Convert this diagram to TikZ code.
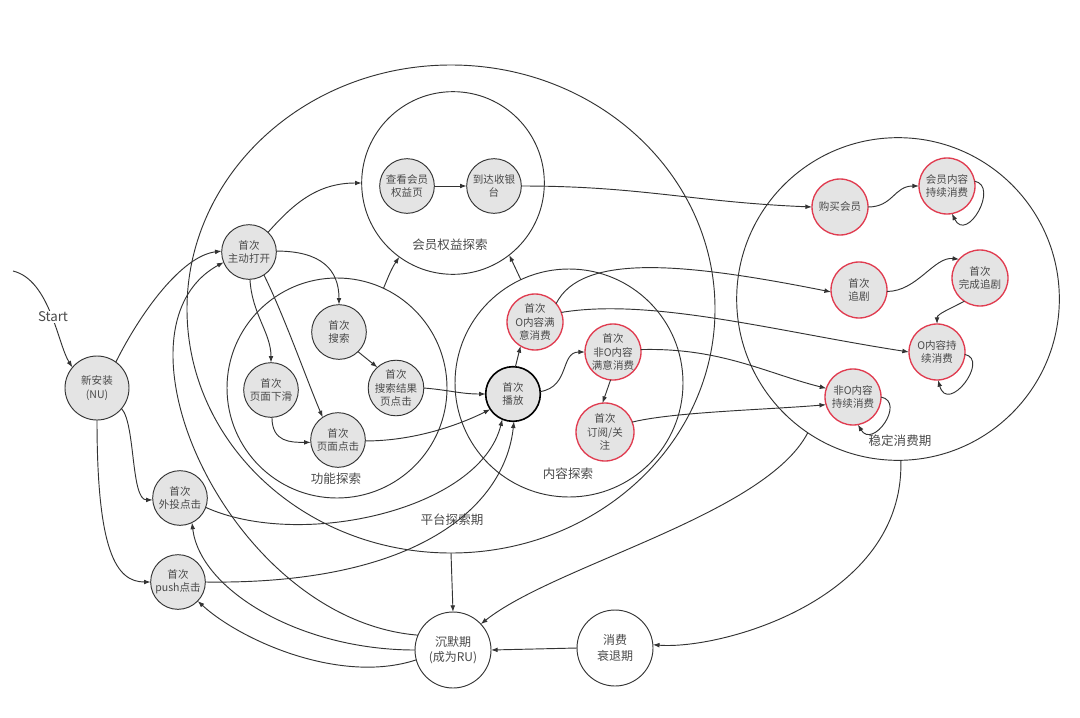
\documentclass[tikz,border=0pt]{standalone}
\usepackage{fontspec}
\setmainfont{Noto Sans CJK SC}
\usetikzlibrary{arrows.meta,shapes.geometric}
\definecolor{nfill}{HTML}{E4E4E4}
\definecolor{rborder}{HTML}{E03C50}
\definecolor{ink}{HTML}{333333}
\definecolor{txt}{HTML}{4A4A4A}
\begin{document}
\begin{tikzpicture}[x=0.75pt,y=-0.75pt,
  every node/.style={inner sep=0pt, outer sep=0pt},
  st/.style={circle, draw=ink, line width=0.7pt, fill=nfill, minimum size=41pt, align=center, text=txt, font=\fontsize{7.9pt}{10pt}\selectfont},
  rst/.style={st, draw=rborder, line width=1pt, minimum size=42pt},
  bigc/.style={circle, draw=ink, line width=0.7pt},
  lab/.style={text=txt, font=\fontsize{9.4pt}{11pt}\selectfont},
  conn/.style={draw=ink, line width=0.7pt, -{Latex[length=5pt,width=3.6pt]}},
]
\fill[white] (0,0) rectangle (1080,717);
\useasboundingbox (0,0) rectangle (1080,717);

% big regions
\node[bigc, ellipse, minimum width=396pt, minimum height=366pt] (plat) at (451,309) {};
\node[bigc, minimum size=137pt] (vip) at (453,183) {};
\node[bigc, minimum size=165pt] (func) at (337,388) {};
\node[bigc, minimum size=171pt] (cont) at (569,383) {};
\node[bigc, minimum size=242pt] (stable) at (898,299) {};

\node[lab] (lvip) at (450,245) {会员权益探索};
\node[lab] (lfunc) at (336,479) {功能探索};
\node[lab] (lcont) at (568,474) {内容探索};
\node[lab] (lplat) at (452,520) {平台探索期};
\node[lab] (lstable) at (900,441) {稳定消费期};

% states
\node[st, minimum size=48pt] (nu) at (97,388) {新安装\\(NU)};
\node[st] (open) at (249,252) {首次\\主动打开};
\node[st] (search) at (339,332) {首次\\搜索};
\node[st] (sres) at (396,388) {首次\\搜索结果\\页点击};
\node[st] (scroll) at (271,390) {首次\\页面下滑};
\node[st] (click) at (338,440) {首次\\页面点击};
\node[st] (vipv) at (407,186) {查看会员\\权益页};
\node[st] (cash) at (494,186) {到达收银\\台};
\node[st, draw=black, line width=1.2pt] (play) at (513,394) {首次\\播放};
\node[rst] (osat) at (535,322) {首次\\O内容满\\意消费};
\node[rst] (nosat) at (613,352) {首次\\非O内容\\满意消费};
\node[rst, minimum size=43.5pt] (sub) at (605,432) {首次\\订阅/关\\注};
\node[rst] (buy) at (840,207) {购买会员};
\node[rst] (vipc) at (947,186) {会员内容\\持续消费};
\node[rst] (chase) at (859,290) {首次\\追剧};
\node[rst] (fchase) at (980,278) {首次\\完成追剧};
\node[rst] (ocont) at (937,352) {O内容持\\续消费};
\node[rst] (nocont) at (853,397) {非O内容\\持续消费};
\node[st] (ext) at (180,498) {首次\\外投点击};
\node[st] (push) at (178,582) {首次\\push点击};
\node[st, fill=white, minimum size=57pt, font=\fontsize{9pt}{11.5pt}\selectfont] (silent) at (453,650) {沉默期\\(成为RU)};
\node[st, fill=white, minimum size=57pt, font=\fontsize{9pt}{11.5pt}\selectfont] (decline) at (615,648) {消费\\衰退期};

% start
\coordinate (startpt) at (13,271);
\draw[conn] (startpt) .. controls (50,280) and (58,345) .. (nu.140);
\node[fill=white, inner sep=1pt, text=txt, font=\fontsize{10pt}{12pt}\selectfont] (lstart) at (53,317) {Start};

% connectors
\draw[conn] (nu.54) .. controls +(25,-50) and +(-40,5) .. (open.178);
\draw[conn] (nu.-40) .. controls +(14,15) and +(-22,0) .. (ext.184);
\draw[conn] (nu.-90) .. controls +(0,130) and +(-35,0) .. (push.180);
\draw[conn] (open.46) .. controls +(25,-28) and +(-45,0) .. (vip.180);
\draw[conn] (open.2) .. controls +(45,0) and +(0,-35) .. (search.90);
\draw[conn] (open.-88) .. controls +(2,35) and +(0,-30) .. (scroll.90);
\draw[conn] (open.-57) .. controls +(20,40) and +(-15,-35) .. (click.124);
\draw[conn] (search.-46) -- (sres.132);
\draw[conn] (scroll.-88) .. controls +(0,25) and +(-20,0) .. (click.185);
\draw[conn] (sres.0) .. controls +(25,2) and +(-25,0) .. (play.180);
\draw[conn] (click.-2) .. controls +(50,0) and +(-30,15) .. (play.214);
\draw[conn] (func.65) .. controls +(5,-12) and +(-8,12) .. (vip.234);
\draw[conn] (cont.115) -- (vip.-52);
\draw[conn] (vipv.0) -- (cash.180);
\draw[conn] (cash.0) .. controls +(120,0) and +(-120,-5) .. (buy.180);
\draw[conn] (play.85) -- (osat.239);
\draw[conn] (play.5) .. controls +(30,-5) and +(-25,0) .. (nosat.180);
\draw[conn] (nosat.-95) -- (sub.95);
\draw[conn] (osat.41) .. controls +(25,-50) and +(-150,-30) .. (chase.184);
\draw[conn] (osat.20) .. controls +(90,-15) and +(-130,-20) .. (ocont.180);
\draw[conn] (nosat.5) .. controls +(80,-2) and +(-60,-15) .. (nocont.162);
\draw[conn] (sub.20) .. controls +(40,-10) and +(-60,5) .. (nocont.196);
\draw[conn] (buy.0) .. controls +(25,0) and +(-25,0) .. (vipc.180);
\draw[conn] (vipc.10) .. controls +(25,5) and +(15,30) .. (vipc.-80);
\draw[conn] (chase.-3) .. controls +(30,0) and +(-25,-3) .. (fchase.138);
\draw[conn] (fchase.236) .. controls +(-15,8) and +(0,-10) .. (ocont.90);
\draw[conn] (ocont.-5) .. controls +(25,5) and +(10,35) .. (ocont.-88);
\draw[conn] (nocont.0) .. controls +(25,5) and +(15,25) .. (nocont.-80);
\draw[conn] (ext.-20) .. controls (300,550) and (480,510) .. (play.247);
\draw[conn] (push.0) .. controls (420,585) and (505,505) .. (play.-88);
\draw[conn] (silent.157) .. controls (230,620) and (100,330) .. (open.202);
\draw[conn] (silent.180) .. controls (300,650) and (200,590) .. (ext.-64);
\draw[conn] (silent.195) .. controls (340,685) and (240,640) .. (push.-44);
\draw[conn] (plat.south) -- (silent.north);
\draw[conn] (stable.236) .. controls (765,515) and (555,565) .. (silent.43);
\draw[conn] (stable.-89) .. controls (905,600) and (720,650) .. (decline.5);
\draw[conn] (decline.180) -- (silent.0);
\end{tikzpicture}
\end{document}
